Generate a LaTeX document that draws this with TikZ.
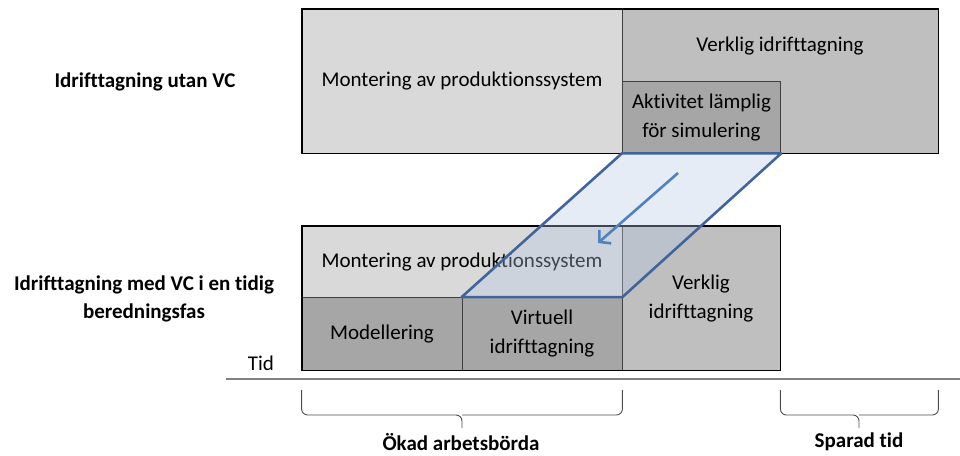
\documentclass[tikz,border=0pt]{standalone}
\usepackage{fontspec}
\setmainfont{Carlito}[Ligatures=NoCommon]
\usetikzlibrary{arrows.meta}
\definecolor{grayL}{HTML}{D9D9D9}
\definecolor{grayM}{HTML}{BFBFBF}
\definecolor{grayD}{HTML}{A6A6A6}
\definecolor{lineD}{HTML}{404040}
\definecolor{paraEdge}{HTML}{41659A}
\definecolor{paraFill}{RGB}{180,200,230}
\definecolor{arrBlue}{HTML}{4F81BD}
\begin{document}
\begin{tikzpicture}[x=1pt,y=-1pt,
  txt/.style={font=\fontsize{21}{29}\selectfont, align=center},
  blk/.style={txt, draw=lineD, line width=0.8pt, inner sep=0pt},
  lbl/.style={font=\fontsize{21}{28}\selectfont\bfseries, align=center},
  outer/.style={draw=black, line width=1.8pt},
  brc/.style={draw=black!70, line width=0.9pt, rounded corners=6pt}]
\useasboundingbox (0,0) rectangle (960,455);

% Upper row: commissioning without VC
\node[blk, fill=grayL, minimum width=320pt, minimum height=143.5pt] (montA) at (462,81.25) {Montering av produktionssystem};
\node[blk, fill=grayM, minimum width=316pt, minimum height=143.5pt] (verkA) at (780,81.25) {};
\node[txt] (verkAtxt) at (780,46.5) {Verklig idrifttagning};
\node[blk, fill=grayD, minimum width=158.5pt, minimum height=71.5pt] (aktA) at (701.5,117.25) {Aktivitet lämplig\\för simulering};
\draw[outer] (montA.north west) rectangle (verkA.south east);

% Lower row: commissioning with VC
\node[blk, fill=grayL, minimum width=320pt, minimum height=71pt] (montB) at (462,262) {Montering av produktionssystem};
\node[blk, fill=grayD, minimum width=160pt, minimum height=72.5pt] (modB) at (382,333.75) {Modellering};
\node[blk, fill=grayD, minimum width=160pt, minimum height=72.5pt] (virtB) at (542,333.75) {Virtuell\\idrifttagning};
\node[blk, fill=grayM, minimum width=158pt, minimum height=143.5pt] (verkB) at (701,298.25) {Verklig\\idrifttagning};
\draw[outer] (montB.north west) rectangle (verkB.south east);

% Moved activity
\fill[paraFill, fill opacity=.35] (aktA.south west) -- (aktA.south east) -- (virtB.north east) -- (virtB.north west) -- cycle;
\draw[paraEdge, line width=2.6pt, line join=round] (aktA.south west) -- (aktA.south east) -- (virtB.north east) -- (virtB.north west) -- cycle;
\coordinate (arrS) at (678,173);
\coordinate (arrE) at (598,243);
\draw[arrBlue, line width=2.6pt, -{Straight Barb[length=8pt,width=18pt]}] (arrS) -- (arrE);

% Time axis
\coordinate (axL) at (226,379);
\coordinate (axR) at (960,379);
\draw[black!50, line width=1.8pt] (axL) -- (axR);
\node[txt] (tid) at (261,363) {Tid};

% Braces
\draw[brc] (montB.west |- 0,390) |- (462,415) -- (462,428);
\draw[brc] (montB.east |- 0,390) |- (462,415);
\node[lbl] (okad) at (461,442) {Ökad arbetsbörda};
\draw[brc] (verkB.east |- 0,390) |- (859,415) -- (859,428);
\draw[brc] (verkA.east |- 0,390) |- (859,415);
\node[lbl] (sparad) at (859,442) {Sparad tid};

% Row labels
\node[lbl] (utan) at (145,82) {Idrifttagning utan VC};
\node[lbl] (med) at (144,299) {Idrifttagning med VC i en tidig\\beredningsfas};
\end{tikzpicture}
\end{document}
